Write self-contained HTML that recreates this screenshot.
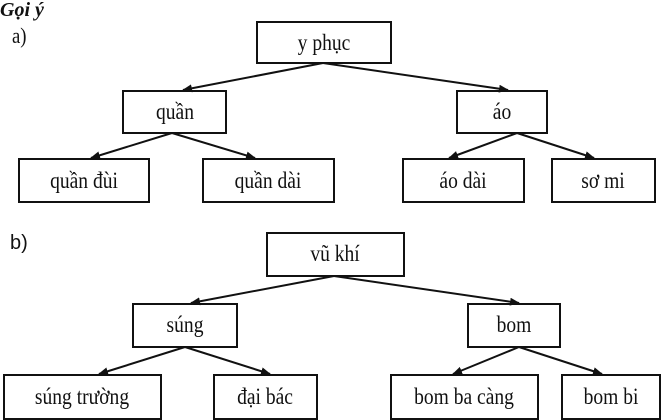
<!DOCTYPE html>
<html><head><meta charset="utf-8"><style>
html,body{margin:0;padding:0;background:#fff;width:667px;height:420px;overflow:hidden}
svg text{font-family:"Liberation Serif","DejaVu Serif",serif;fill:#111}
</style></head><body>
<svg width="667" height="420" viewBox="0 0 667 420" xmlns="http://www.w3.org/2000/svg">
<defs><marker id="a" markerWidth="10" markerHeight="8" refX="9" refY="4" orient="auto" markerUnits="userSpaceOnUse"><path d="M0,0 L10,4 L0,8 Z" fill="#111"/></marker></defs>
<text x="0" y="16" font-size="20" font-weight="bold" font-style="italic">Gọi ý</text>
<g transform="translate(12,43) scale(0.85,1)"><text font-size="22">a)</text></g>
<text x="10" y="249" font-size="20" style="font-family:'Liberation Sans',sans-serif">b)</text>
<g fill="none" stroke="#111" stroke-width="2">
<rect x="257" y="22" width="134" height="41"/>
<rect x="123" y="91" width="103" height="42"/>
<rect x="457" y="91" width="90" height="42"/>
<rect x="19" y="159" width="130" height="43"/>
<rect x="203" y="159" width="131" height="43"/>
<rect x="403" y="159" width="121" height="43"/>
<rect x="552" y="159" width="103" height="43"/>
<rect x="267" y="233" width="137" height="43"/>
<rect x="133" y="304" width="104" height="43"/>
<rect x="468" y="304" width="92" height="43"/>
<rect x="4" y="375" width="157" height="44"/>
<rect x="214" y="375" width="103" height="44"/>
<rect x="391" y="375" width="147" height="44"/>
<rect x="562" y="375" width="98" height="44"/>
</g>
<g stroke="#111" stroke-width="2" marker-end="url(#a)">
<line x1="323" y1="63" x2="183" y2="90"/>
<line x1="323" y1="63" x2="508" y2="90"/>
<line x1="172" y1="133" x2="91" y2="158"/>
<line x1="172" y1="133" x2="255" y2="158"/>
<line x1="517" y1="133" x2="449" y2="158"/>
<line x1="517" y1="133" x2="594" y2="158"/>
<line x1="334" y1="276" x2="191" y2="303"/>
<line x1="334" y1="276" x2="519" y2="303"/>
<line x1="185" y1="347" x2="99" y2="374"/>
<line x1="185" y1="347" x2="270" y2="374"/>
<line x1="519" y1="347" x2="453" y2="374"/>
<line x1="519" y1="347" x2="602" y2="374"/>
</g>
<g font-size="23" text-anchor="middle">
<g transform="translate(324,50) scale(0.85,1)"><text>y phục</text></g>
<g transform="translate(175,119) scale(0.85,1)"><text>quần</text></g>
<g transform="translate(502,119) scale(0.85,1)"><text>áo</text></g>
<g transform="translate(84,188) scale(0.85,1)"><text>quần đùi</text></g>
<g transform="translate(268,188) scale(0.85,1)"><text>quần dài</text></g>
<g transform="translate(463,188) scale(0.85,1)"><text>áo dài</text></g>
<g transform="translate(603,188) scale(0.85,1)"><text>sơ mi</text></g>
<g transform="translate(335,261) scale(0.85,1)"><text>vũ khí</text></g>
<g transform="translate(185,332) scale(0.85,1)"><text>súng</text></g>
<g transform="translate(514,332) scale(0.85,1)"><text>bom</text></g>
<g transform="translate(82,404) scale(0.85,1)"><text>súng trường</text></g>
<g transform="translate(265,404) scale(0.85,1)"><text>đại bác</text></g>
<g transform="translate(464,404) scale(0.85,1)"><text>bom ba càng</text></g>
<g transform="translate(611,404) scale(0.85,1)"><text>bom bi</text></g>
</g>
</svg>
</body></html>
